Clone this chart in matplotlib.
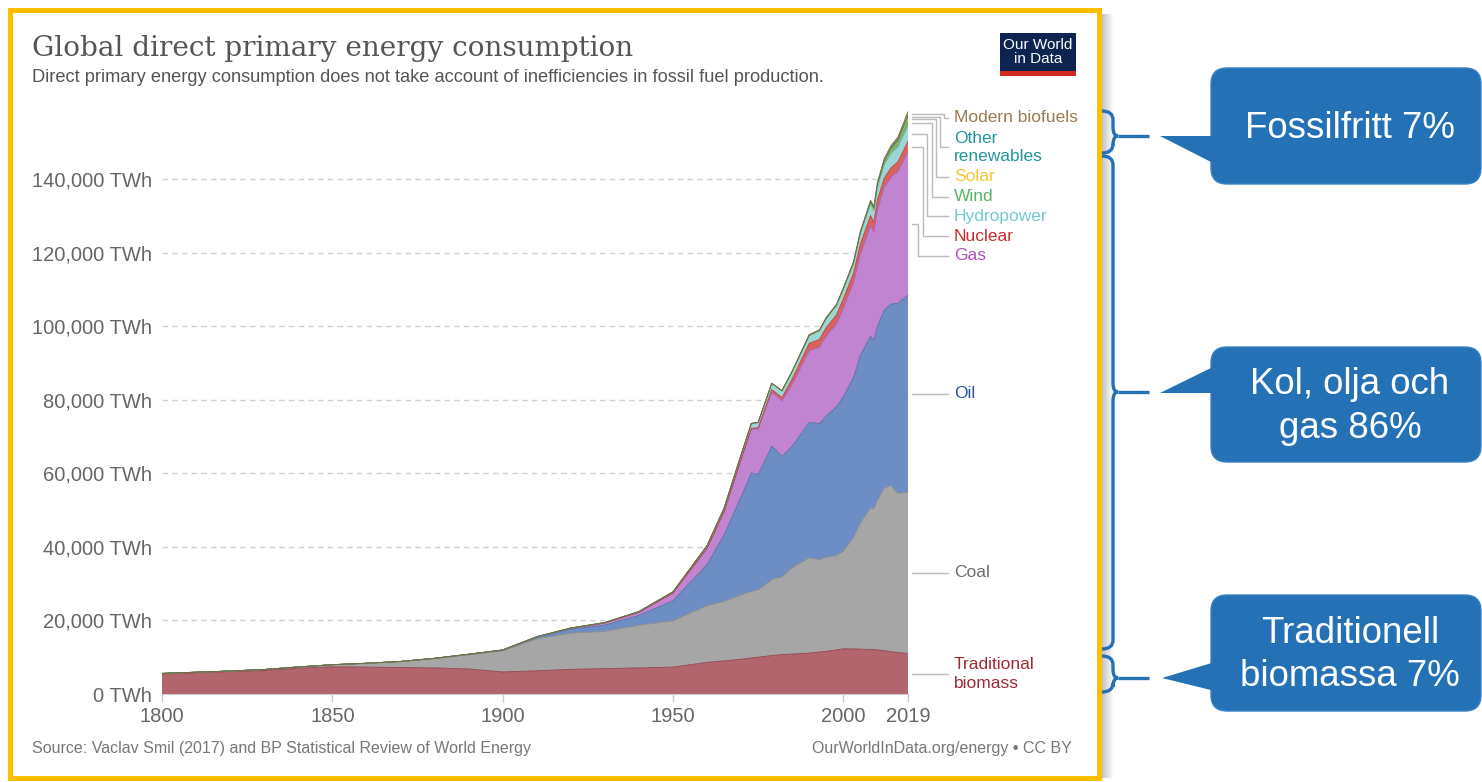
import numpy as np
import matplotlib
matplotlib.use("Agg")
import matplotlib.pyplot as plt
import matplotlib.transforms as mtransforms
from matplotlib.patches import Rectangle, FancyBboxPatch, Polygon, PathPatch
from matplotlib.path import Path

W, H = 1482, 782

# ---- data (TWh) ----
years = [1800, 1810, 1820, 1830, 1840, 1850, 1860, 1870, 1880, 1890, 1900, 1910, 1920, 1930, 1940, 1950, 1960,
         1965, 1970, 1973, 1975, 1979, 1980, 1982, 1985, 1990, 1993, 1995, 1998,
         2000, 2003, 2005, 2008, 2009, 2010, 2012, 2014, 2016, 2019]

trad_biomass = [5500, 5800, 6100, 6400, 7000, 7400, 7300, 7200, 7100, 6800, 6000, 6300, 6700, 6900, 7100, 7300, 8600,
                9000, 9444, 9800, 10000, 10450, 10556, 10700, 10850, 11111, 11400, 11600, 12000,
                12300, 12250, 12200, 12100, 12050, 12000, 11800, 11500, 11300, 11000]
coal = [97, 128, 153, 264, 356, 569, 1061, 1642, 2542, 3856, 5728, 8656, 9833, 10125, 11586, 12603, 15442,
        16140, 17500, 18100, 18300, 20600, 20900, 21100, 23500, 25900, 25100, 25600, 25600,
        26500, 30300, 34300, 38500, 38300, 40600, 44100, 45200, 43300, 43800]
oil = [0, 0, 0, 0, 0, 0, 0, 6, 33, 89, 181, 397, 1114, 1694, 2672, 5444, 11097,
       18100, 26600, 32200, 31300, 36300, 35000, 32800, 33000, 36800, 37000, 38300, 40500,
       42000, 43400, 45600, 46600, 45800, 47300, 48400, 49300, 51600, 53600]
gas = [0, 0, 0, 0, 0, 0, 0, 0, 33, 67, 64, 186, 233, 575, 853, 2092, 4472,
       6300, 10200, 11900, 12400, 14700, 14900, 15100, 16800, 19500, 20700, 21800, 22500,
       24000, 25800, 27400, 30100, 29400, 31600, 33400, 34500, 35800, 39000]
nuclear = [0] * 16 + [7,
           25, 80, 200, 380, 680, 710, 880, 1500, 2000, 2180, 2330, 2430,
           2580, 2640, 2770, 2740, 2700, 2770, 2470, 2540, 2610, 2800]
hydropower = [0] * 10 + [5, 21, 64, 128, 192, 333, 689,
              920, 1180, 1320, 1430, 1680, 1720, 1800, 1980, 2150, 2370, 2490, 2600,
              2650, 2650, 2900, 3200, 3240, 3430, 3670, 3890, 4020, 4220]
wind = [0] * 25 + [4, 6, 8, 21, 31, 63, 104, 220, 276, 346, 524, 710, 960, 1430]
solar = [0] * 29 + [1, 2, 4, 12, 20, 34, 100, 197, 330, 724]
other_renewables = [0] * 16 + [10, 20, 30, 35, 40, 50, 55, 65, 90, 120, 135, 145, 165,
                               180, 210, 240, 290, 310, 360, 420, 480, 540, 650]
modern_biofuels = [0] * 21 + [20, 30, 50, 80, 110, 110, 110, 100,
                              110, 160, 220, 470, 520, 590, 640, 760, 840, 1100]

names = ["Traditional\nbiomass", "Coal", "Oil", "Gas", "Nuclear", "Hydropower",
         "Wind", "Solar", "Other\nrenewables", "Modern biofuels"]
series = [trad_biomass, coal, oil, gas, nuclear, hydropower, wind, solar,
          other_renewables, modern_biofuels]
fills = ["#b2656d", "#a6a6a6", "#6d8ec4", "#c084d0", "#dc6262", "#9cd6d6",
         "#74b97c", "#f9d44a", "#3aa3a5", "#a38560"]
edges = ["#8e3f48", "#8a8a8a", "#50709f", "#a060b0", "#b83c3c", "#6fb3b3",
         "#4f9a58", "#d9b020", "#1f8385", "#806540"]
label_colors = ["#9e2a33", "#6e6e6e", "#2f55a4", "#a652ba", "#cc2a2f", "#78c8cf",
                "#58b067", "#f7c530", "#22969a", "#9a7a52"]

xticks = [1800, 1850, 1900, 1950, 2000, 2019]
yticks = [0, 20000, 40000, 60000, 80000, 100000, 120000, 140000]

plt.rcParams["font.family"] = ["Liberation Sans", "DejaVu Sans"]

fig = plt.figure(figsize=(W / 100, H / 100), dpi=100)
fig.patch.set_facecolor("white")

# plot area in pixels: x 162..908, y 0 at 694, 140k at 179
ax_l, ax_r, ax_b = 162, 908, 694
scale = (694 - 179) / 140000
ymax = 160000
ax_t = ax_b - ymax * scale
ax = fig.add_axes([ax_l / W, 1 - ax_b / H, (ax_r - ax_l) / W, (ax_b - ax_t) / H])

x = np.array(years)
base = np.zeros(len(years))
tops = []
for vals, fc, ec in zip(series, fills, edges):
    top = base + np.array(vals)
    ax.fill_between(x, base, top, facecolor=fc, edgecolor="none", zorder=2)
    ax.plot(x, top, color=ec, lw=0.6, zorder=2.5)
    tops.append((base[-1], top[-1]))
    base = top

ax.set_xlim(1800, 2019)
ax.set_ylim(0, ymax)
ax.set_yticks(yticks)
ax.set_yticklabels([f"{v:,} TWh" for v in yticks])
ax.set_xticks(xticks)
ax.tick_params(axis="y", length=0, pad=7, labelsize=14.5, labelcolor="#666666")
ax.tick_params(axis="x", length=6, width=1, color="#cccccc", pad=3, labelsize=14.5, labelcolor="#666666")
ax.grid(axis="y", ls=(0, (4, 3)), color="#999999", alpha=0.45, lw=1, zorder=3)
for s in ["top", "right", "left"]:
    ax.spines[s].set_visible(False)
ax.spines["bottom"].set_color("#cccccc")
ax.spines["bottom"].set_zorder(4)

# ---- right-hand labels with leader lines ----
trans = mtransforms.blended_transform_factory(ax.transAxes, ax.transData)
def xa(p):
    return (p - ax_l) / (ax_r - ax_l)

mids = [(lo + hi) / 2 for lo, hi in tops]
label_y = list(mids)
step = 5350
y0 = 156600
small_order = [9, 8, 7, 6, 5, 4, 3]   # biofuels down to gas
elbows = [944, 940, 936, 932, 927, 923, 918]
pos = 0
for i, idx in enumerate(small_order):
    if "\n" in names[idx]:
        ly = y0 - (pos + 0.5) * step
        pos += 2
    else:
        ly = y0 - pos * step
        pos += 1
    label_y[idx] = ly
    ax.plot([xa(912), xa(elbows[i]), xa(elbows[i]), xa(948)], [mids[idx], mids[idx], ly, ly],
            color="#bbbbbb", lw=1, transform=trans, clip_on=False)
for idx in [0, 1, 2]:
    ax.plot([xa(912), xa(948)], [mids[idx], mids[idx]], color="#bbbbbb", lw=1,
            transform=trans, clip_on=False)
for idx in range(len(names)):
    ax.text(xa(954), label_y[idx], names[idx], transform=trans, color=label_colors[idx],
            fontsize=12.5, va="center", ha="left", linespacing=1.3)

# ---- overlay in pixel coordinates ----
ov = fig.add_axes([0, 0, 1, 1], zorder=5)
ov.set_xlim(0, W)
ov.set_ylim(H, 0)
ov.axis("off")

rend = fig.canvas.get_renderer()
def fit(t, width):
    w = t.get_window_extent(rend).width
    t.set_fontsize(t.get_fontsize() * width / w)

t = ov.text(32, 48, "Global direct primary energy consumption", family="DejaVu Serif",
            fontsize=20, color="#555555", va="center", ha="left")
fit(t, 601)
t = ov.text(32, 77, "Direct primary energy consumption does not take account of inefficiencies "
            "in fossil fuel production.", fontsize=12, color="#555555", va="center", ha="left")
fit(t, 796)
t = ov.text(32, 748, "Source: Vaclav Smil (2017) and BP Statistical Review of World Energy",
            fontsize=11, color="#777777", va="center", ha="left")
fit(t, 499)
t = ov.text(1072, 748, "OurWorldInData.org/energy \u2022 CC BY", fontsize=11,
            color="#777777", va="center", ha="right")
fit(t, 259)

# OWID logo
ov.add_patch(Rectangle((1000, 33), 76, 38, fc="#0d2350", ec="none"))
ov.add_patch(Rectangle((1000, 71), 76, 5, fc="#d1291f", ec="none"))
ov.text(1038, 52, "Our World\nin Data", color="white", fontsize=11, ha="center",
        va="center", linespacing=1.0)

# yellow frame + shadow
grad = np.linspace(0.75, 1.0, 20).reshape(1, -1)
ov.imshow(np.dstack([grad, grad, grad]), extent=(1101, 1114, 778, 14), aspect="auto", zorder=1)
ov.add_patch(Rectangle((9.5, 9.5), 1089.5, 768, fill=False, ec="#fdbf00", lw=3.6, zorder=2))

# braces and callouts
blue = "#2471b6"
def brace(xs, top, tip, bot, r=9, w=11, tp=5):
    verts = [(xs - w, top), (xs, top), (xs, top + r),
             (xs, tip - r), (xs, tip), (xs + tp, tip),
             (xs, tip), (xs, tip + r),
             (xs, bot - r), (xs, bot), (xs - w, bot)]
    codes = [Path.MOVETO, Path.CURVE3, Path.CURVE3, Path.LINETO, Path.CURVE3, Path.CURVE3,
             Path.CURVE3, Path.CURVE3, Path.LINETO, Path.CURVE3, Path.CURVE3]
    ov.add_patch(PathPatch(Path(verts, codes), fill=False, ec=blue, lw=2.4, zorder=3))
    ov.plot([xs + tp, 1149], [tip, tip], color=blue, lw=2.4, zorder=3,
            solid_capstyle="butt")

brace(1113, 111, 136, 153)
brace(1113, 156, 392, 649)
brace(1113, 656, 678, 692)

callouts = [
    ((1211, 68, 116), [(1160, 136), (1215, 136), (1215, 164)], "Fossilfritt 7%"),
    ((1211, 347, 115), [(1160, 393), (1215, 366), (1215, 393)], "Kol, olja och\ngas 86%"),
    ((1211, 595, 116), [(1162, 678), (1215, 662), (1215, 691)], "Traditionell\nbiomassa 7%"),
]
for (bx, by, bh), tri, txt in callouts:
    ov.add_patch(FancyBboxPatch((bx, by), 270, bh, boxstyle="round,pad=0,rounding_size=16",
                                fc=blue, ec="#3a82c4", lw=1, zorder=3))
    ov.add_patch(Polygon(tri, closed=True, fc=blue, ec="none", zorder=3))
    ov.text(bx + 139, by + bh / 2 + 2, txt, color="white", fontsize=26.4, ha="center",
            va="center", linespacing=1.33, zorder=4)

fig.savefig("out.png", dpi=100, facecolor="white")
